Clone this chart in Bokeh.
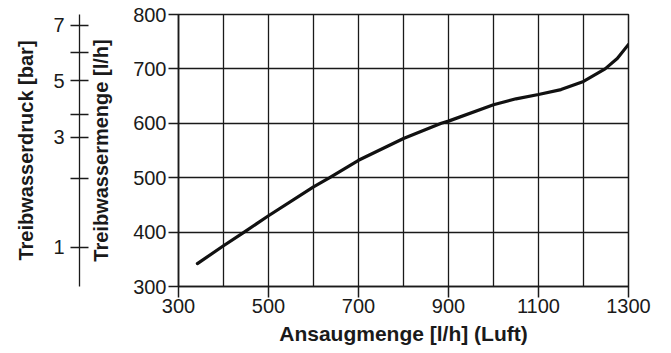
from bokeh.plotting import figure
from bokeh.models import LinearAxis, FixedTicker, Range1d
from bokeh.embed import file_html
from bokeh.resources import INLINE

# --- data ---
air_intake_lh = [342, 400, 446, 500, 600, 636, 700, 800, 884, 900, 1000, 1050, 1100, 1150, 1200, 1248, 1275, 1300]
water_flow_lh = [342, 375, 400, 430, 483, 500, 532, 572, 600, 604, 634, 645, 653, 662, 677, 700, 719, 745]

x_tick_values = [300, 500, 700, 900, 1100, 1300]
x_grid_values = [400, 500, 600, 700, 800, 900, 1000, 1100, 1200]
y_tick_values = [300, 400, 500, 600, 700, 800]

# pressure scale (bar) and the flow value (l/h) where each tick sits
pressure_bar = [1, 2, 3, 4, 5, 6, 7]
pressure_pos_lh = [372, 498, 574, 617, 678, 731, 780]
pressure_labelled = [1, 3, 5, 7]

FONT = "Liberation Sans"
INK = "#1a1a1a"

p = figure(width=671, height=353, x_range=Range1d(300, 1300), y_range=Range1d(300, 800),
           output_backend="svg", toolbar_location=None,
           min_border_left=178, min_border_right=43, min_border_top=14, min_border_bottom=67)
p.background_fill_color = "white"
p.border_fill_color = "white"
p.outline_line_color = INK
p.outline_line_width = 1.5

# grid
p.xgrid.ticker = FixedTicker(ticks=x_grid_values)
p.ygrid.ticker = FixedTicker(ticks=y_tick_values)
for g in (p.xgrid, p.ygrid):
    g.grid_line_color = INK
    g.grid_line_width = 1.3
    g.grid_line_alpha = 1.0

# x axis
xa = p.xaxis[0]
xa.ticker = FixedTicker(ticks=x_tick_values)
xa.major_tick_out = 11
xa.major_tick_in = 0
xa.minor_tick_line_color = None
xa.axis_line_color = INK
xa.axis_line_width = 1.5
xa.major_tick_line_color = INK
xa.major_tick_line_width = 1.5
xa.major_label_text_font = FONT
xa.major_label_text_font_size = "20px"
xa.major_label_text_color = INK
xa.major_label_standoff = 1
xa.axis_label = "Ansaugmenge [l/h] (Luft)"
xa.axis_label_text_font = FONT
xa.axis_label_text_font_size = "21px"
xa.axis_label_text_font_style = "bold"
xa.axis_label_text_color = INK
xa.axis_label_standoff = 6

# main y axis (Treibwassermenge)
ya = p.yaxis[0]
ya.ticker = FixedTicker(ticks=y_tick_values)
ya.major_tick_out = 10
ya.major_tick_in = 0
ya.minor_tick_line_color = None
ya.axis_line_color = INK
ya.axis_line_width = 1.5
ya.major_tick_line_color = INK
ya.major_tick_line_width = 1.5
ya.major_label_text_font = FONT
ya.major_label_text_font_size = "20px"
ya.major_label_text_color = INK
ya.major_label_standoff = 2
ya.axis_label = "Treibwassermenge [l/h]"
ya.axis_label_text_font = FONT
ya.axis_label_text_font_size = "20px"
ya.axis_label_text_font_style = "bold"
ya.axis_label_text_color = INK
ya.axis_label_standoff = 18

# invisible spacer between the two left scales
sp = LinearAxis(ticker=FixedTicker(ticks=[550]), major_label_overrides={550: ""},
                axis_line_color=None, major_tick_out=8, major_tick_in=0,
                major_tick_line_color=None, minor_tick_line_color=None,
                major_label_text_font_size="1px", major_label_standoff=0)
p.add_layout(sp, "left")

# pressure axis (Treibwasserdruck)
overrides = {pos: (str(b) if b in pressure_labelled else "") for b, pos in zip(pressure_bar, pressure_pos_lh)}
pa = LinearAxis(ticker=FixedTicker(ticks=pressure_pos_lh), major_label_overrides=overrides)
pa.major_tick_out = 9
pa.major_tick_in = 9
pa.minor_tick_line_color = None
pa.axis_line_color = INK
pa.axis_line_width = 1.3
pa.major_tick_line_color = INK
pa.major_tick_line_width = 1.3
pa.major_label_text_font = FONT
pa.major_label_text_font_size = "20px"
pa.major_label_text_color = INK
pa.major_label_standoff = 6
pa.axis_label = "Treibwasserdruck [bar]"
pa.axis_label_text_font = FONT
pa.axis_label_text_font_size = "20px"
pa.axis_label_text_font_style = "bold"
pa.axis_label_text_color = INK
pa.axis_label_standoff = 13
p.add_layout(pa, "left")

# curve
p.line(air_intake_lh, water_flow_lh, line_color="#111111", line_width=3.2, line_join="round", line_cap="round")

open("out.html", "w").write(file_html(p, INLINE))
